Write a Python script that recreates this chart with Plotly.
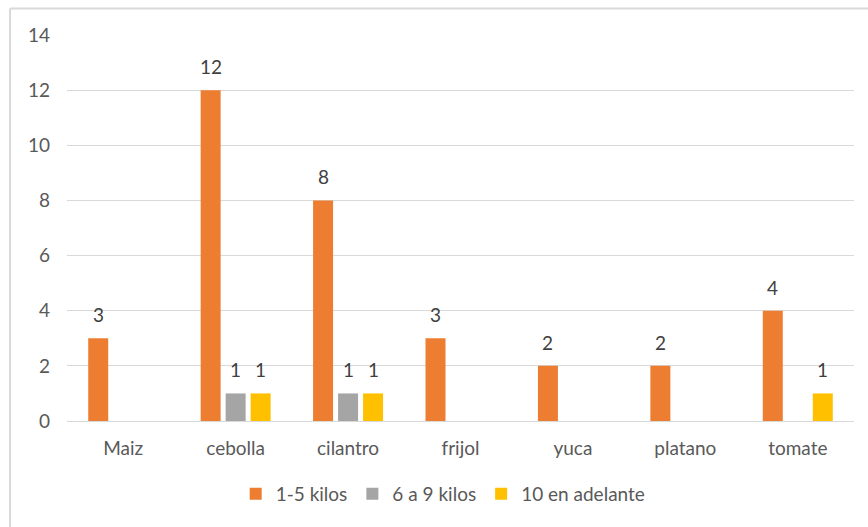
import plotly.graph_objects as go

# Quantities by crop, grouped by weight range
categories = ["Maiz", "cebolla", "cilantro", "frijol", "yuca", "platano", "tomate"]
series_names = ["1-5 kilos", "6 a 9 kilos", "10 en adelante"]
kilos_1_5 = [3, 12, 8, 3, 2, 2, 4]
kilos_6_9 = [None, 1, 1, None, None, None, None]
kilos_10_mas = [None, 1, 1, None, None, None, 1]
colors = ["#ED7D31", "#A5A5A5", "#FFC000"]

y_ticks = [0, 2, 4, 6, 8, 10, 12, 14]

FONT = "Lato"
FSIZE = 19
AXIS_GRAY = "#595959"
LABEL_GRAY = "#404040"
GRID = "#D9D9D9"

series = [kilos_1_5, kilos_6_9, kilos_10_mas]
x_idx = list(range(len(categories)))

BARGAP = 0.333
BARGROUPGAP = 0.2
slot = (1 - BARGAP) / len(series)

fig = go.Figure()
annotations = []
for k, (name, vals, col) in enumerate(zip(series_names, series, colors)):
    fig.add_trace(go.Bar(
        x=x_idx, y=vals, name=name,
        marker=dict(color=col, line=dict(width=0)),
        hoverinfo="skip",
    ))
    offset = (k - (len(series) - 1) / 2) * slot
    for i, v in zip(x_idx, vals):
        if v is None:
            continue
        annotations.append(dict(
            x=i + offset, y=v, xref="x", yref="y",
            text=str(v), showarrow=False,
            yanchor="bottom", yshift=10,
            font=dict(family=FONT, size=FSIZE, color=LABEL_GRAY),
        ))

fig.update_layout(
    width=868, height=527,
    margin=dict(l=67, r=14, t=35, b=106),
    paper_bgcolor="white", plot_bgcolor="white",
    barmode="group", bargap=BARGAP, bargroupgap=BARGROUPGAP,
    font=dict(family=FONT, size=FSIZE, color=AXIS_GRAY),
    showlegend=True,
    legend=dict(
        orientation="h", x=0.478, xanchor="center", y=-0.189, yanchor="middle",
        font=dict(family=FONT, size=FSIZE, color=AXIS_GRAY),
        itemwidth=30, traceorder="normal",
    ),
    annotations=annotations,
    shapes=[
        # chart frame (top and left edges)
        dict(type="line", xref="paper", yref="paper",
             x0=(10 - 67) / 787, x1=(868 - 67) / 787 + 0.01,
             y0=(421 - 8.5) / 386, y1=(421 - 8.5) / 386,
             line=dict(color=GRID, width=2), layer="below"),
        dict(type="line", xref="paper", yref="paper",
             x0=(10 - 67) / 787, x1=(10 - 67) / 787,
             y0=(421 - 8.5) / 386, y1=(421 - 530) / 386,
             line=dict(color=GRID, width=2), layer="below"),
    ],
    xaxis=dict(
        tickmode="array", tickvals=x_idx, ticktext=categories,
        range=[-0.5, len(categories) - 0.5],
        showgrid=False, zeroline=False, showline=False, ticks="",
        ticklabelstandoff=14,
        tickfont=dict(family=FONT, size=FSIZE, color=AXIS_GRAY),
        fixedrange=True,
    ),
    yaxis=dict(
        range=[0, 14], tickvals=y_ticks,
        showgrid=True, gridcolor=GRID, gridwidth=1,
        zeroline=True, zerolinecolor=GRID, zerolinewidth=1,
        showline=False, ticks="",
        ticklabelstandoff=16,
        tickfont=dict(family=FONT, size=FSIZE, color=AXIS_GRAY),
        fixedrange=True,
    ),
)

fig.write_html("out.html", config={"displayModeBar": False})
